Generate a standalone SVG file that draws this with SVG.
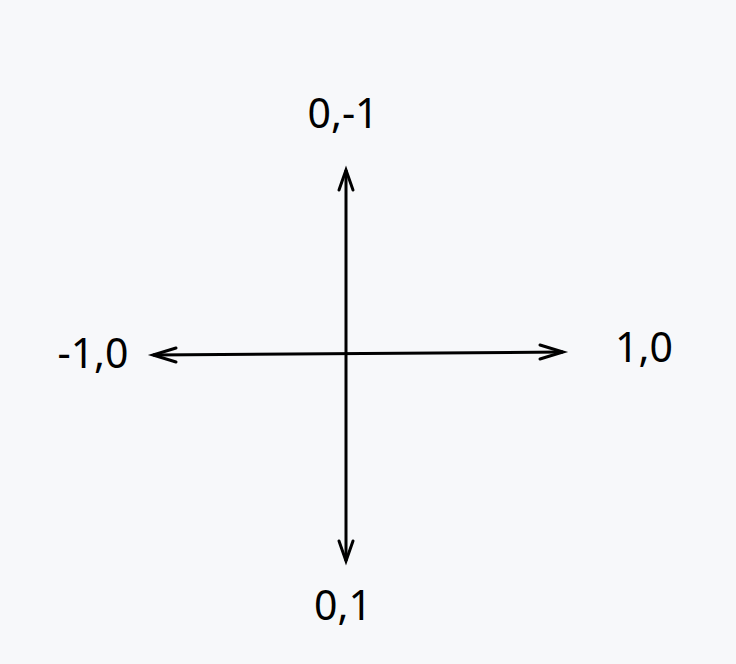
<svg xmlns="http://www.w3.org/2000/svg" width="736" height="664" viewBox="0 0 736 664">
<style>
.lbl{font-family:"Noto Sans","Open Sans",sans-serif;font-size:41px;fill:#000;text-anchor:middle}
.ax{stroke:#000;stroke-width:3;fill:none}
.hd{stroke:#000;stroke-width:3;fill:none;stroke-linecap:round;stroke-linejoin:miter}
</style>
<rect width="736" height="664" fill="#f7f8fa"/>
<g id="connectors">
<line class="ax" x1="346" y1="170" x2="346" y2="561"/>
<polyline class="hd" points="339,190 346,170 353,190"/>
<polyline class="hd" points="339,541 346,561 353,541"/>
<line class="ax" x1="153" y1="355" x2="563" y2="352"/>
<polyline class="hd" points="176,348 153,355 176,362"/>
<polyline class="hd" points="540,345 563,352 540,359"/>
</g>
<g id="n-top"><text class="lbl" x="343" y="128">0,-1</text></g>
<g id="n-left"><text class="lbl" x="93" y="368">-1,0</text></g>
<g id="n-right"><text class="lbl" x="644" y="362">1,0</text></g>
<g id="n-bottom"><text class="lbl" x="343" y="620">0,1</text></g>
</svg>
